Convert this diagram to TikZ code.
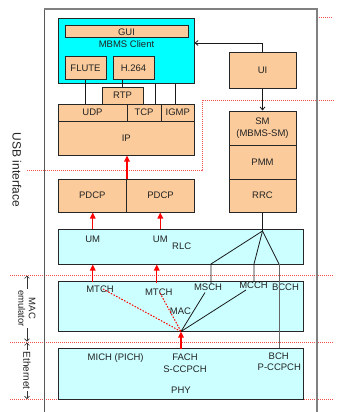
\documentclass[tikz,border=0pt]{standalone}
\usepackage{fontspec}
\setmainfont{Liberation Sans}
\usetikzlibrary{arrows.meta}
\definecolor{peachc}{HTML}{FBCB9B}
\definecolor{cyanc}{HTML}{00FFFF}
\definecolor{lcyanc}{HTML}{CCFFFF}
\definecolor{txtc}{HTML}{222222}
\definecolor{dotred}{HTML}{F03030}
\begin{document}
\begin{tikzpicture}[x=1pt,y=-1pt,
  every node/.style={font=\fontsize{9.5}{11.5}\selectfont, text=txtc, inner sep=0pt},
  bx/.style={draw=black!85, line width=1pt, inner sep=0pt},
  pbox/.style={bx, fill=peachc},
  cbox/.style={bx, fill=lcyanc},
  conn/.style={draw=black!90, line width=0.8pt},
  barb/.style={conn, -{Straight Barb[length=3pt,width=5pt]}},
  redarr/.style={draw=red, line width=1.3pt, -{Triangle[length=6pt,width=5.5pt]}},
  reddot/.style={draw=red, line width=1pt, dash pattern=on 1.5pt off 1.5pt},
  sepline/.style={draw=dotred!85, line width=0.9pt, dash pattern=on 1pt off 1pt},
  dimarr/.style={draw=black!80, line width=0.7pt, {Straight Barb[length=2.5pt,width=5pt]}-{Straight Barb[length=2.5pt,width=5pt]}}
]
\useasboundingbox (0,0) rectangle (341,412);

% separator lines
\coordinate (u1) at (27,170.5);
\coordinate (u2) at (202,170.5);
\coordinate (u3) at (202,100);
\coordinate (u4) at (333,100);
\draw[sepline] (u1) -- (u2) -- (u3) -- (u4);
\coordinate (t1) at (317,17);
\coordinate (t2) at (333,17);
\draw[sepline] (t1) -- (t2);
\coordinate (s1a) at (10,275);  \coordinate (s1b) at (333,275);
\coordinate (s2a) at (10,342);  \coordinate (s2b) at (333,342);
\coordinate (s3a) at (10,399.5);\coordinate (s3b) at (333,399.5);
\draw[sepline] (s1a) -- (s1b);
\draw[sepline] (s2a) -- (s2b);
\draw[sepline] (s3a) -- (s3b);

% outer frame
\coordinate (fa) at (44.3,412);
\coordinate (fb) at (44.3,9);
\coordinate (fc) at (317,9);
\coordinate (fd) at (317,412);
\draw[draw=black!65, line width=0.9pt] (fa) -- (fb);
\draw[draw=black!50, line width=1.6pt] (fb) -- (fc) -- (fd);

% MBMS client
\node[bx, fill=cyanc, minimum width=136.5pt, minimum height=64pt] (client) at (126.25,51) {};
\node[pbox, minimum width=123pt, minimum height=12pt] (gui) at (126.5,32) {GUI};
\node (mbms) at (126.5,44.5) {MBMS Client};
\node[pbox, minimum width=41pt, minimum height=22pt] (flute) at (85.5,68) {FLUTE};
\node[pbox, minimum width=41pt, minimum height=22pt] (h264) at (133.5,68) {H.264};

\node[pbox, minimum width=41pt, minimum height=17pt] (rtp) at (122.5,95.5) {RTP};
\node[pbox, minimum width=69pt, minimum height=17pt] (udp) at (92.5,112.5) {UDP};
\node[pbox, minimum width=34pt, minimum height=17pt] (tcp) at (144,112.5) {TCP};
\node[pbox, minimum width=33.5pt, minimum height=17pt] (igmp) at (177.75,112.5) {IGMP};
\node[pbox, minimum width=136.5pt, minimum height=34pt] (ip) at (126.25,138) {IP};

\node[pbox, minimum width=68.5pt, minimum height=33pt] (pdcp1) at (92.25,195.5) {PDCP};
\node[pbox, minimum width=68pt, minimum height=33pt] (pdcp2) at (160.5,195.5) {PDCP};

% right stack
\node[pbox, minimum width=67pt, minimum height=35pt] (ui) at (262.5,70.5) {UI};
\node[pbox, minimum width=67pt, minimum height=34pt, align=center] (sm) at (262.5,128) {SM\\(MBMS-SM)};
\node[pbox, minimum width=67pt, minimum height=34pt] (pmm) at (262.5,162) {PMM};
\node[pbox, minimum width=67pt, minimum height=33pt] (rrc) at (262.5,195.5) {RRC};

% lower layers
\node[cbox, minimum width=245pt, minimum height=34.5pt] (rlc) at (180.5,246.75) {};
\node[cbox, minimum width=245pt, minimum height=50.5pt] (mac) at (180.5,306.25) {};
\node[cbox, minimum width=245pt, minimum height=50.5pt] (phy) at (180.5,373.75) {};

% client internal lines
\draw[conn] (flute.south) -- (flute.south |- udp.north);
\draw[conn] (rtp.north) -- (rtp.north |- h264.south);
\coordinate (tcpl) at (155,104);
\coordinate (igmpl) at (175,104);
\draw[conn] (tcpl) -- (tcpl |- client.south);
\draw[conn] (igmpl) -- (igmpl |- client.south);

% UI arrows
\coordinate (clin) at (194.5,43);
\draw[barb] (ui.north) |- (clin);
\draw[barb] (ui.south) -- (sm.north);

% RLC labels
\node (um1) at (92.7,239) {UM};
\node (um2) at (160.3,239) {UM};
\node (rlclab) at (181.7,246) {RLC};

% MAC labels
\node (mtch1) at (100,289.5) {MTCH};
\node (mtch2) at (158.8,292) {MTCH};
\node (msch) at (208,287.5) {MSCH};
\node (mcch) at (253.5,285.5) {MCCH};
\node (bcch) at (285.5,287) {BCCH};
\node (maclab) at (180.5,311) {MAC};

% PHY labels
\node (mich) at (115.7,358) {MICH (PICH)};
\node (fach) at (185,357) {FACH};
\node (sccpch) at (185,369) {S-CCPCH};
\node (bch) at (278.7,356.5) {BCH};
\node (pccpch) at (279.3,367.5) {P-CCPCH};
\node (phylab) at (181,390) {PHY};

% RRC fan
\coordinate (fan) at (262.5,231);
\coordinate (f1) at (211,264);
\coordinate (f2) at (254,264);
\coordinate (f3) at (279,264);
\coordinate (macpt) at (181,331.5);
\coordinate (d1) at (205,292.5);
\coordinate (d2) at (246,290);
\draw[conn] (rrc.south) -- (fan);
\draw[conn] (fan) -- (f1) -- (f1 |- msch.north);
\draw[conn] (fan) -- (f2) -- (f2 |- mcch.north);
\draw[conn] (fan) -- (f3);
\draw[draw=black!60, line width=0.9pt] (f3) -- (f3 |- phy.north);
\draw[conn] (macpt) -- (d1);
\draw[conn] (macpt) -- (d2);

% red data path
\coordinate (r1) at (103,289);
\coordinate (r2) at (160,293);
\draw[reddot] (r1) -- (macpt);
\draw[reddot] (r2) -- (macpt);
\coordinate (phyup) at (181,348.5);
\draw[redarr] (phyup) -- (macpt);
\coordinate (m1) at (92.7,282);
\coordinate (m2) at (156.7,282.5);
\draw[redarr] (m1) -- (m1 |- rlc.south);
\draw[redarr] (m2) -- (m2 |- rlc.south);
\draw[redarr] (um1 |- rlc.north) -- (um1 |- pdcp1.south);
\draw[redarr] (um2 |- rlc.north) -- (um2 |- pdcp2.south);
\draw[redarr] (pdcp1.north east) -- (pdcp1.north east |- ip.south);

% left side labels
\node[rotate=-90, font=\fontsize{12}{14}\selectfont] (usb) at (17,170) {USB interface};
\coordinate (ma) at (27,275.5);
\coordinate (mb) at (27,341.5);
\coordinate (ea) at (27,342.5);
\coordinate (eb) at (27,399);
\draw[dimarr] (ma) -- (mb) node[midway, fill=white, rotate=-90, align=center, inner sep=1.5pt, font=\fontsize{9.5}{10.5}\selectfont] (macemu) {MAC\\emulator};
\draw[dimarr] (ea) -- (eb) node[midway, fill=white, rotate=-90, inner sep=1.5pt, font=\fontsize{10}{12}\selectfont] (eth) {Ethernet};
\end{tikzpicture}
\end{document}
